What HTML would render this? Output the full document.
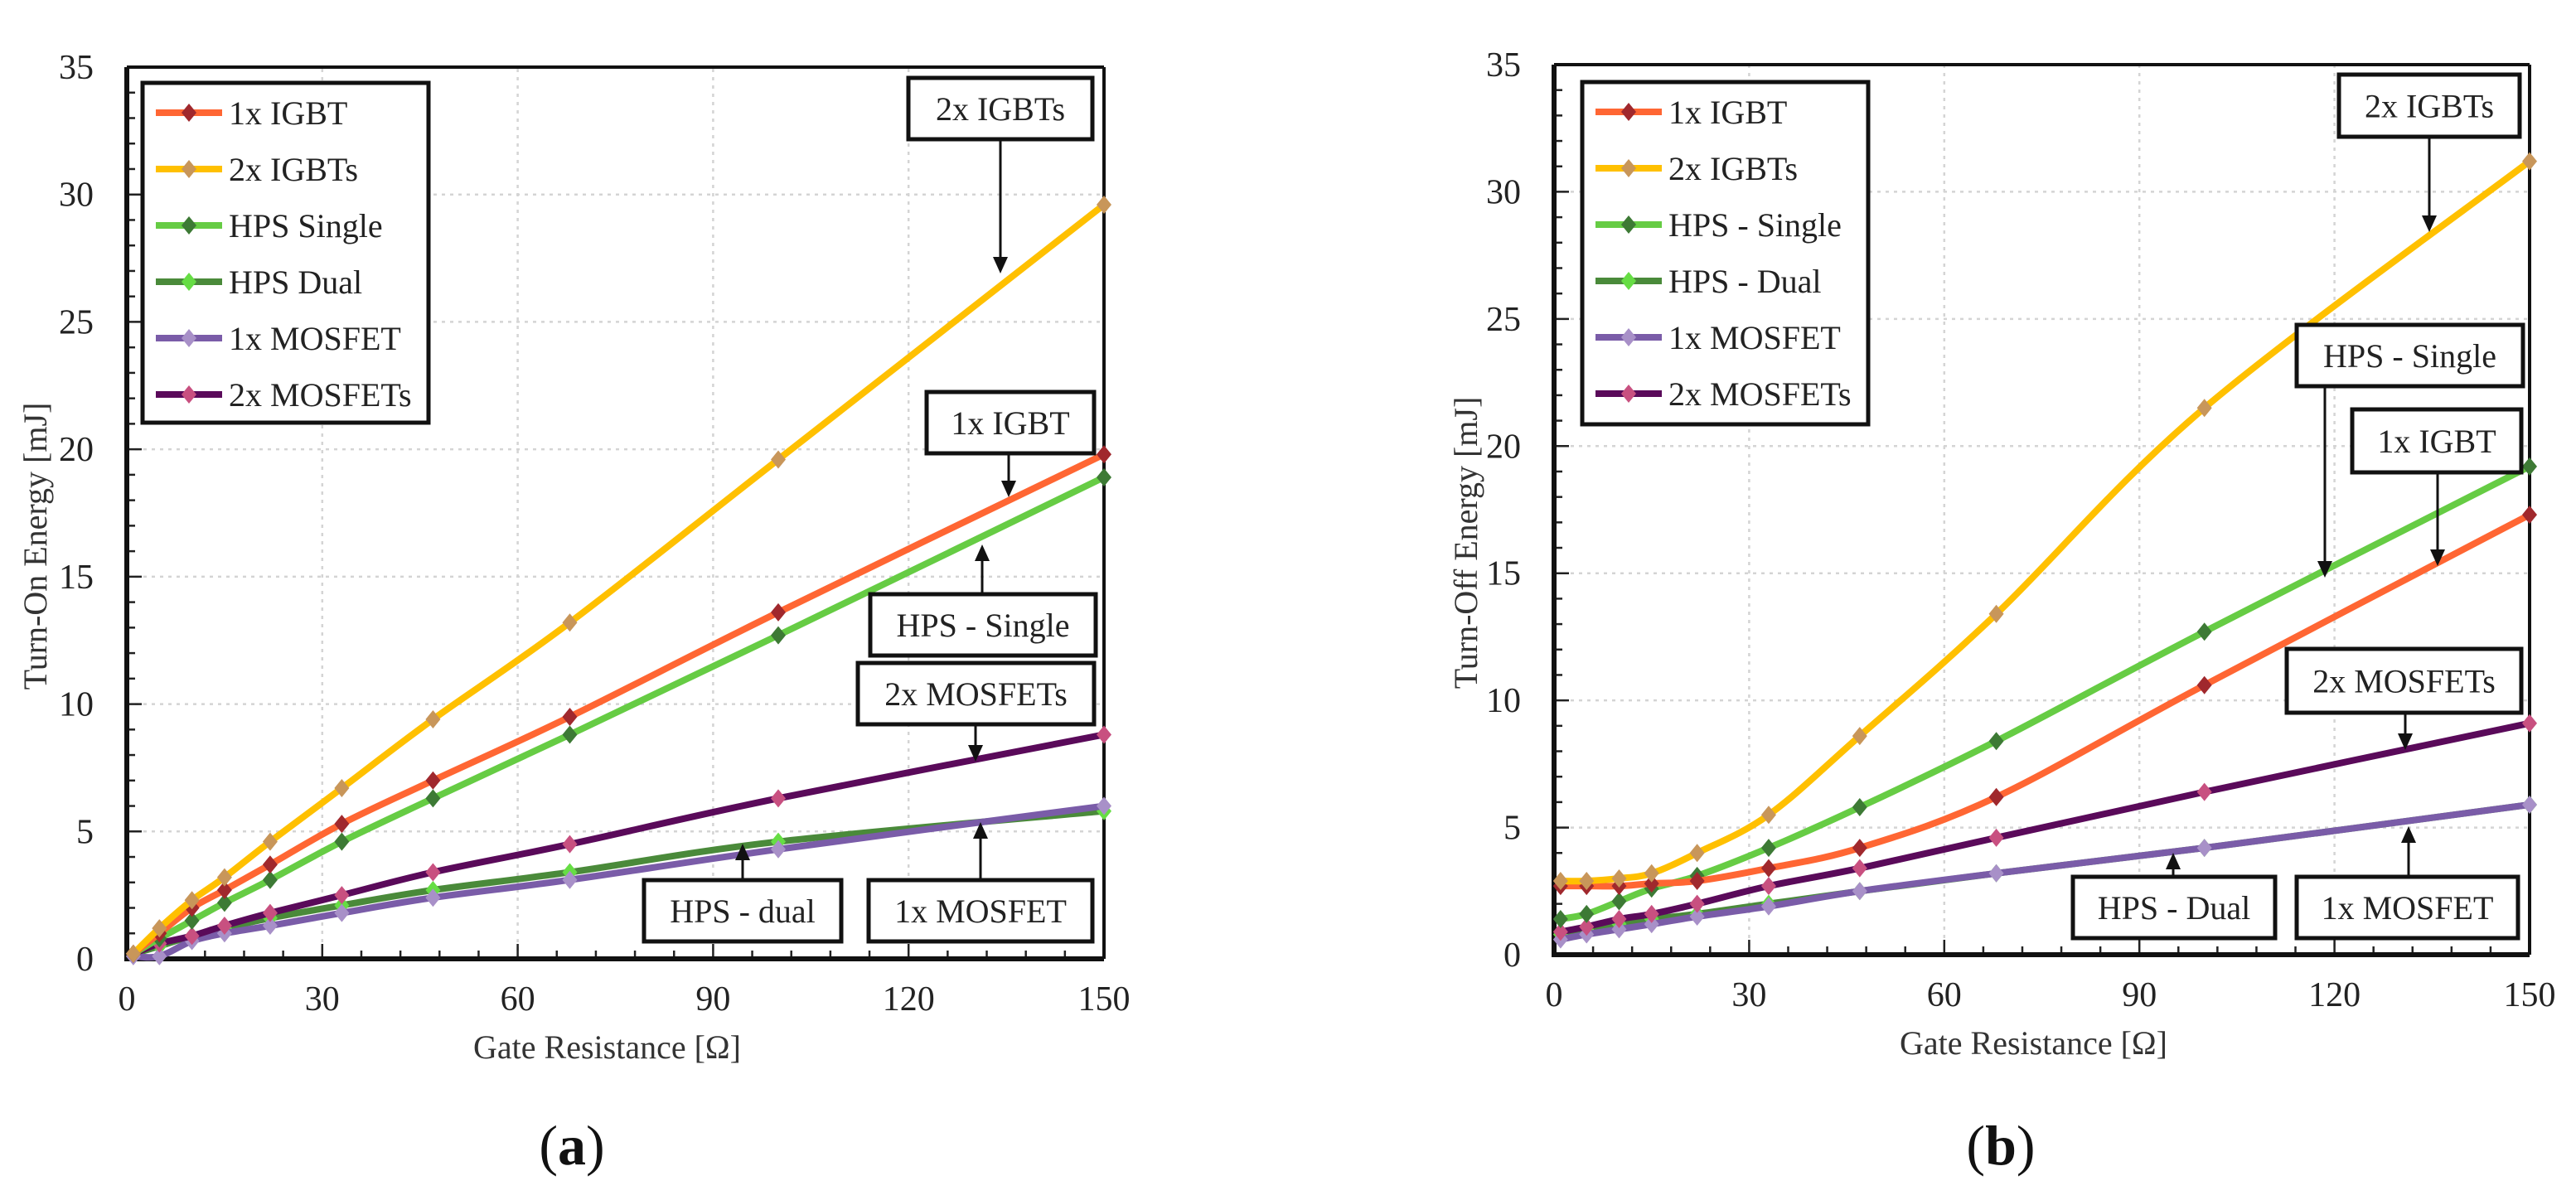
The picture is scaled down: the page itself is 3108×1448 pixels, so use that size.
<!DOCTYPE html>
<html><head><meta charset="utf-8">
<style>
html,body{margin:0;padding:0;background:#fff;}
svg{display:block;}
text{font-family:"Liberation Serif",serif;}
</style></head>
<body>
<svg id="fig" width="3108" height="1448" viewBox="0 0 3108 1448" xmlns="http://www.w3.org/2000/svg"></svg>
<script>
const xValues = [1, 5, 10, 15, 22, 33, 47, 68, 100, 150];
const seriesNames = ["1x IGBT", "2x IGBTs", "HPS Single", "HPS Dual", "1x MOSFET", "2x MOSFETs"];
const seriesNamesB = ["1x IGBT", "2x IGBTs", "HPS - Single", "HPS - Dual", "1x MOSFET", "2x MOSFETs"];
const xTicks = [0, 30, 60, 90, 120, 150];
const yTicks = [0, 5, 10, 15, 20, 25, 30, 35];

const onIGBT1   = [0.2, 1.0, 2.0, 2.7, 3.7, 5.3, 7.0, 9.5, 13.6, 19.8];
const onIGBT2   = [0.2, 1.2, 2.3, 3.2, 4.6, 6.7, 9.4, 13.2, 19.6, 29.6];
const onHPSS    = [0.2, 0.8, 1.5, 2.2, 3.1, 4.6, 6.3, 8.8, 12.7, 18.9];
const onHPSD    = [0.2, 0.5, 0.9, 1.2, 1.6, 2.1, 2.7, 3.4, 4.6, 5.8];
const onMOS1    = [0.1, 0.1, 0.7, 1.0, 1.3, 1.8, 2.4, 3.1, 4.3, 6.0];
const onMOS2    = [0.2, 0.6, 0.9, 1.3, 1.8, 2.5, 3.4, 4.5, 6.3, 8.8];

const offIGBT1  = [2.7, 2.7, 2.7, 2.8, 2.9, 3.4, 4.2, 6.2, 10.6, 17.3];
const offIGBT2  = [2.9, 2.9, 3.0, 3.2, 4.0, 5.5, 8.6, 13.4, 21.5, 31.2];
const offHPSS   = [1.4, 1.6, 2.1, 2.6, 3.1, 4.2, 5.8, 8.4, 12.7, 19.2];
const offHPSD   = [0.8, 1.0, 1.2, 1.4, 1.6, 2.0, 2.5, 3.2, 4.2, 5.9];
const offMOS1   = [0.6, 0.8, 1.0, 1.2, 1.5, 1.9, 2.5, 3.2, 4.2, 5.9];
const offMOS2   = [0.9, 1.1, 1.4, 1.6, 2.0, 2.7, 3.4, 4.6, 6.4, 9.1];

const NS = "http://www.w3.org/2000/svg";
const svg = document.getElementById('fig');
const lineCols = ["#ff6633", "#ffc000", "#66cc44", "#4a8a3a", "#7a5ca8", "#5a0a5a"];
const markCols = ["#a0282d", "#c8965a", "#3d7a35", "#66dd44", "#a890c8", "#c85080"];
const drawOrder = [3, 4, 5, 2, 0, 1];

function mk(tag, attrs, parent) {
  const e = document.createElementNS(NS, tag);
  for (const k in attrs) e.setAttribute(k, attrs[k]);
  (parent || svg).appendChild(e);
  return e;
}
function smoothPath(pts) {
  let d = "M" + pts[0][0] + "," + pts[0][1];
  for (let i = 0; i < pts.length - 1; i++) {
    const p0 = pts[Math.max(0, i - 1)], p1 = pts[i], p2 = pts[i + 1], p3 = pts[Math.min(pts.length - 1, i + 2)];
    const t = 1 / 6;
    const c1 = [p1[0] + (p2[0] - p0[0]) * t, p1[1] + (p2[1] - p0[1]) * t];
    const c2 = [p2[0] - (p3[0] - p1[0]) * t, p2[1] - (p3[1] - p1[1]) * t];
    d += " C" + c1[0] + "," + c1[1] + " " + c2[0] + "," + c2[1] + " " + p2[0] + "," + p2[1];
  }
  return d;
}

function chart(cfg) {
  const g = mk('g', {});
  
  
  const X = v => cfg.x0 + (v / 150) * (cfg.x1 - cfg.x0);
  const Y = v => cfg.y0 - (v / 35) * (cfg.y0 - cfg.y1);
  // grid
  const grid = mk('g', {}, g);
  
  
  yTicks.forEach(v => { if (v > 0) mk('line', {x1: cfg.x0, x2: cfg.x1, y1: Y(v), y2: Y(v), stroke: "#d4d4d4", "stroke-width": 2.5, "stroke-dasharray": "4 6"}, grid); });
  xTicks.forEach(v => { if (v > 0) mk('line', {x1: X(v), x2: X(v), y1: cfg.y0, y2: cfg.y1, stroke: "#d4d4d4", "stroke-width": 2.5, "stroke-dasharray": "4 6"}, grid); });
  // minor ticks
  for (let v = 0; v <= 35; v++) {
    const len = v % 5 === 0 ? 18 : 10;
    mk('line', {x1: cfg.x0, x2: cfg.x0 + len, y1: Y(v), y2: Y(v), stroke: "#222", "stroke-width": 2.5}, g);
  }
  for (let v = 0; v <= 150; v += 6) {
    const len = v % 30 === 0 ? 18 : 10;
    mk('line', {x1: X(v), x2: X(v), y1: cfg.y0, y2: cfg.y0 - len, stroke: "#222", "stroke-width": 2.5}, g);
  }
  // frame
  mk('line', {x1: cfg.x0, x2: cfg.x1, y1: cfg.y1, y2: cfg.y1, stroke: "#111", "stroke-width": 4}, g);
  mk('line', {x1: cfg.x1, x2: cfg.x1, y1: cfg.y1, y2: cfg.y0, stroke: "#111", "stroke-width": 4}, g);
  const ya = mk('line', {x1: cfg.x0, x2: cfg.x0, y1: cfg.y1, y2: cfg.y0 + 3, stroke: "#111", "stroke-width": 6}, g);
  
  
  const xa = mk('line', {x1: cfg.x0 - 3, x2: cfg.x1, y1: cfg.y0, y2: cfg.y0, stroke: "#111", "stroke-width": 6}, g);
  
  
  // tick labels
  yTicks.forEach(v => {
    const t = mk('text', {x: cfg.x0 - 40, y: Y(v) + 14, "text-anchor": "end", "font-size": 42, fill: "#222"}, g);
    t.textContent = v;
    
    
  });
  xTicks.forEach(v => {
    const t = mk('text', {x: X(v), y: cfg.y0 + 62, "text-anchor": "middle", "font-size": 42, fill: "#222"}, g);
    t.textContent = v;
    
    
  });
  const xt = mk('text', {x: (cfg.x0 + cfg.x1) / 2 - 10, y: cfg.y0 + 120, "text-anchor": "middle", "font-size": 40, fill: "#333"}, g);
  xt.textContent = "Gate Resistance [Ω]";
  
  
  const yt = mk('text', {x: 0, y: 0, "text-anchor": "middle", "font-size": 40, fill: "#333", transform: "translate(" + cfg.ytx + "," + ((cfg.y0 + cfg.y1) / 2 + 40) + ") rotate(-90)"}, g);
  yt.textContent = cfg.ytitle;
  
  
  // series
  drawOrder.forEach(i => {
    const vals = cfg.data[i];
    const pts = xValues.map((xv, j) => [X(xv), Y(vals[j])]);
    const sg = mk('g', {}, g);
    
    
    const p = mk('path', {d: smoothPath(pts), fill: "none", stroke: lineCols[i], "stroke-width": 8, "stroke-linejoin": "round"}, sg);
    
    
    pts.forEach(pt => {
      const m = mk('polygon', {points: [pt[0], pt[1] - 11, pt[0] + 9, pt[1], pt[0], pt[1] + 11, pt[0] - 9, pt[1]].join(","), fill: markCols[i]}, sg);
      
      
    });
  });
  // legend
  const L = cfg.legend;
  const lg = mk('g', {}, g);
  
  
  mk('rect', {x: L.x, y: L.y, width: L.w, height: L.h, fill: "#fff", stroke: "#111", "stroke-width": 5}, lg);
  cfg.names.forEach((n, i) => {
    const ly = L.y + 36 + i * 68;
    const e = mk('g', {}, lg);
    
    
    mk('line', {x1: L.x + 16, x2: L.x + 96, y1: ly, y2: ly, stroke: lineCols[i], "stroke-width": 8}, e);
    mk('polygon', {points: [L.x + 56, ly - 11, L.x + 65, ly, L.x + 56, ly + 11, L.x + 47, ly].join(","), fill: markCols[i]}, e);
    const t = mk('text', {x: L.x + 104, y: ly + 14, "font-size": 40, fill: "#222"}, e);
    t.textContent = n;
  });
  // annotations
  cfg.notes.forEach(a => {
    const ag = mk('g', {}, g);
    
    
    mk('rect', {x: a.x, y: a.y, width: a.w, height: a.h, fill: "#fff", stroke: "#111", "stroke-width": 5}, ag);
    const t = mk('text', {x: a.x + a.w / 2, y: a.y + a.h / 2 + 14, "text-anchor": "middle", "font-size": 40, fill: "#222"}, ag);
    t.textContent = a.t;
    const down = a.ay > a.y;
    const sy = down ? a.y + a.h : a.y;
    const tipY = a.ay;
    const baseY = down ? tipY - 20 : tipY + 20;
    mk('line', {x1: a.ax, x2: a.ax, y1: sy, y2: baseY, stroke: "#111", "stroke-width": 3}, ag);
    mk('polygon', {points: [a.ax - 9, baseY, a.ax + 9, baseY, a.ax, tipY].join(","), fill: "#111"}, ag);
  });
  // panel label
  const pl = mk('text', {x: cfg.lblx, y: 1405, "text-anchor": "middle", "font-size": 68, fill: "#111"}, g);
  pl.innerHTML = '(<tspan font-weight="bold">' + cfg.lbl + '</tspan>)';
  
  
}

chart({
  name: "chart-a-turn-on", x0: 153, x1: 1332, y0: 1157, y1: 81,
  ytitle: "Turn-On Energy [mJ]", ytx: 56, lbl: "a", lblx: 690,
  names: seriesNames,
  data: [onIGBT1, onIGBT2, onHPSS, onHPSD, onMOS1, onMOS2],
  legend: {x: 172, y: 100, w: 345, h: 410},
  notes: [
    {t: "2x IGBTs", x: 1096, y: 94, w: 222, h: 74, ax: 1207, ay: 330},
    {t: "1x IGBT", x: 1118, y: 473, w: 202, h: 74, ax: 1217, ay: 600},
    {t: "HPS - Single", x: 1050, y: 717, w: 272, h: 74, ax: 1185, ay: 657},
    {t: "2x MOSFETs", x: 1035, y: 800, w: 285, h: 74, ax: 1177, ay: 919},
    {t: "HPS - dual", x: 777, y: 1062, w: 238, h: 74, ax: 896, ay: 1018},
    {t: "1x MOSFET", x: 1048, y: 1062, w: 270, h: 74, ax: 1183, ay: 992}
  ]
});
chart({
  name: "chart-b-turn-off", x0: 1875, x1: 3052, y0: 1152, y1: 78,
  ytitle: "Turn-Off Energy [mJ]", ytx: 1782, lbl: "b", lblx: 2414,
  names: seriesNamesB,
  data: [offIGBT1, offIGBT2, offHPSS, offHPSD, offMOS1, offMOS2],
  legend: {x: 1909, y: 99, w: 345, h: 413},
  notes: [
    {t: "2x IGBTs", x: 2822, y: 90, w: 218, h: 75, ax: 2931, ay: 280},
    {t: "HPS - Single", x: 2771, y: 392, w: 273, h: 74, ax: 2805, ay: 697},
    {t: "1x IGBT", x: 2838, y: 494, w: 204, h: 76, ax: 2941, ay: 683},
    {t: "2x MOSFETs", x: 2759, y: 783, w: 283, h: 77, ax: 2902, ay: 905},
    {t: "HPS - Dual", x: 2501, y: 1058, w: 244, h: 74, ax: 2622, ay: 1029},
    {t: "1x MOSFET", x: 2771, y: 1058, w: 267, h: 74, ax: 2906, ay: 997}
  ]
});
</script>
</body></html>
